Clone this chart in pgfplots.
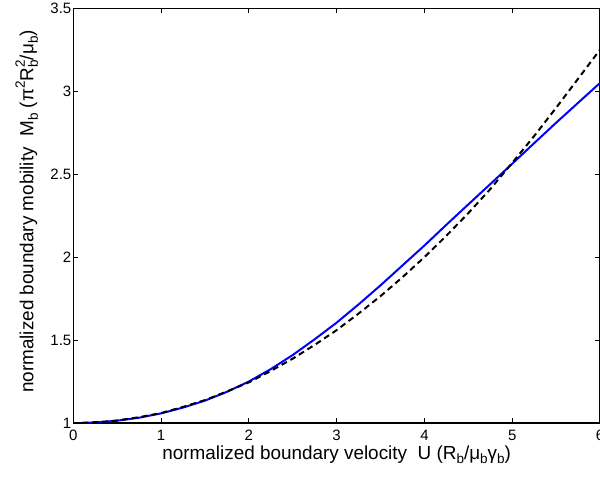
\documentclass[border=0pt]{standalone}
\usepackage{fontspec}
\setmainfont{Liberation Sans}
\usepackage{pgfplots}
\pgfplotsset{compat=1.18}
\newcommand{\tickf}{\fontsize{15}{17}\selectfont}
\newcommand{\bigf}{\fontsize{18.9}{20}\selectfont}
\newcommand{\scr}{\fontsize{13.5}{13.5}\selectfont}
\newcommand{\sbs}[1]{\raisebox{-0.45ex}{\scr #1}}
\newcommand{\sps}[1]{\raisebox{0.85ex}{\scr #1}}
\newcommand{\sbsp}[2]{\makebox[0pt][l]{\raisebox{-0.45ex}{\scr #1}}\raisebox{0.85ex}{\scr #2}}
\begin{document}
\begin{tikzpicture}
\begin{axis}[
  scale only axis,
  width=526.7pt, height=414.7pt,
  xmin=0, xmax=6, ymin=1, ymax=3.5,
  xtick={0,1,2,3,4,5,6},
  ytick={1,1.5,2,2.5,3,3.5},
  yticklabels={1,1.5,2,2.5,3,3.5},
  tick align=inside,
  major tick length=5pt,
  axis line style={line width=1.3pt},
  every tick/.style={black, line width=0.8pt},
  tick label style={font=\tickf},
  label style={font=\bigf},
  /pgf/number format/assume math mode=true,
  xticklabel style={yshift=-3.5pt},
  yticklabel style={xshift=1.5pt},
  xlabel={normalized boundary velocity\ \ U (R\sbs{b}/μ\sbs{b}γ\sbs{b})},
  ylabel={normalized boundary mobility\ \ M\sbs{b} (π\sps{2}R\sbsp{b}{2}/μ\sbs{b})},
  xlabel style={at={(axis description cs:0.5,-0.088)}, anchor=base},
  ylabel style={at={(axis description cs:-0.076,0.51)}, anchor=base},
  clip=true,
]
\coordinate (SW) at (rel axis cs:0,0);
\coordinate (NE) at (rel axis cs:1,1);
\addplot[blue, line width=2pt] coordinates {
(0.1,1.000) (0.3,1.005) (0.5,1.014) (0.75,1.032) (1.0,1.058) (1.25,1.093)
(1.5,1.135) (1.75,1.188) (2.0,1.250) (2.25,1.325) (2.5,1.410) (2.75,1.505)
(3.0,1.605) (3.25,1.715) (3.5,1.830) (3.75,1.950) (4.0,2.070) (4.25,2.195)
(4.5,2.318) (4.75,2.440) (5.0,2.563) (5.25,2.687) (5.5,2.810) (5.75,2.930) (6.0,3.050)
};
\addplot[black, line width=2pt, dash pattern=on 6pt off 4pt] coordinates {
(0.1,1.001) (0.3,1.006) (0.5,1.015) (0.75,1.035) (1.0,1.060) (1.25,1.097)
(1.5,1.138) (1.75,1.190) (2.0,1.245) (2.25,1.314) (2.5,1.388) (2.75,1.471)
(3.0,1.560) (3.25,1.660) (3.5,1.765) (3.75,1.879) (4.0,2.000) (4.25,2.129)
(4.5,2.265) (4.75,2.410) (5.0,2.568) (5.25,2.730) (5.5,2.900) (5.75,3.075) (6.0,3.250)
};
\end{axis}
\pgfresetboundingbox
\path[use as bounding box] ([xshift=-73.3pt,yshift=-55pt]SW) rectangle ([yshift=8.3pt]NE);
\end{tikzpicture}
\end{document}
